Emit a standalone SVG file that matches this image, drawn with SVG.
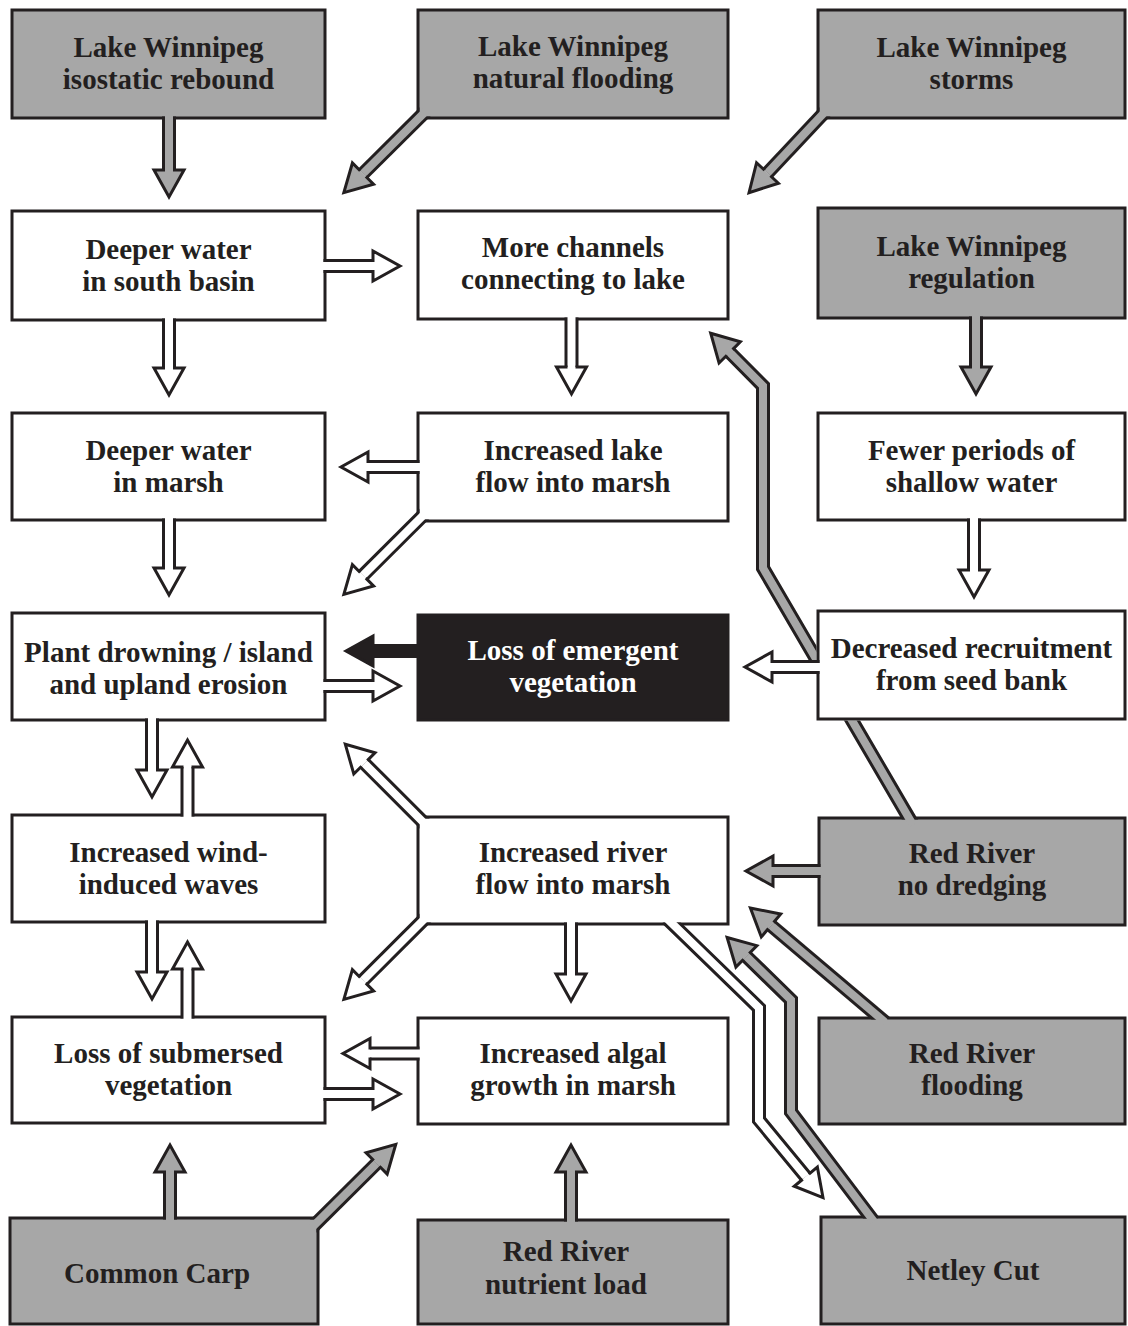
<svg xmlns="http://www.w3.org/2000/svg" width="1128" height="1326" viewBox="0 0 1128 1326">
<style>
.box{stroke:#231f20;stroke-width:3}
.g{fill:#a7a7a7}
.w{fill:#fff}
.k{fill:#231f20}
text{font-family:"Liberation Serif","Times New Roman",serif;font-weight:bold;font-size:29px;fill:#231f20;text-anchor:middle}
text.inv{fill:#fff}
.out{fill:none;stroke:#231f20;stroke-width:14;stroke-linejoin:miter}
.in{fill:none;stroke-width:8;stroke-linejoin:miter}
.in.wa{stroke:#fff;marker-end:url(#hw)}
.in.ga{stroke:#a7a7a7;marker-end:url(#hg)}
.in.ka{stroke:#231f20;marker-end:url(#hk)}
</style>
<defs>
<marker id="hw" markerUnits="userSpaceOnUse" orient="auto" overflow="visible" markerWidth="1" markerHeight="1" refX="0" refY="0">
<path d="M0,4 L0,15 L27,0 L0,-15 L0,-4" fill="#fff" stroke="#231f20" stroke-width="3"/>
</marker>
<marker id="hg" markerUnits="userSpaceOnUse" orient="auto" overflow="visible" markerWidth="1" markerHeight="1" refX="0" refY="0">
<path d="M0,4 L0,15 L27,0 L0,-15 L0,-4" fill="#a7a7a7" stroke="#231f20" stroke-width="3"/>
</marker>
<marker id="hk" markerUnits="userSpaceOnUse" orient="auto" overflow="visible" markerWidth="1" markerHeight="1" refX="0" refY="0">
<path d="M0,4 L0,15 L27,0 L0,-15 L0,-4" fill="#231f20" stroke="#231f20" stroke-width="3"/>
</marker>
<clipPath id="outside">
<path clip-rule="evenodd" d="M0,0H1128V1326H0Z
M13.5,11.5h310v105h-310Z M419.5,11.5h307v105h-307Z M819.5,11.5h304v105h-304Z
M13.5,212.5h310v106h-310Z M419.5,212.5h307v105h-307Z M819.5,209.5h304v107h-304Z
M13.5,414.5h310v104h-310Z M419.5,414.5h307v105h-307Z M819.5,414.5h304v104h-304Z
M13.5,614.5h310v104h-310Z M419.5,616.5h307v102h-307Z M819.5,612.5h304v105h-304Z
M13.5,816.5h310v104h-310Z M419.5,818.5h307v104h-307Z M820.5,819.5h303v104h-303Z
M13.5,1018.5h310v103h-310Z M419.5,1019.5h307v103h-307Z M820.5,1019.5h303v103h-303Z
M11.5,1219.5h305v103h-305Z M419.5,1221.5h307v101h-307Z M822.5,1218.5h301v104h-301Z"/>
</clipPath>
<clipPath id="notL">
<path clip-rule="evenodd" d="M0,0H1128V1326H0Z M816.5,609.5h310v111h-310Z"/>
</clipPath>
</defs>
<rect width="1128" height="1326" fill="#fff"/>

<g id="nodes">
<g id="n-lw-rebound"><rect class="box g" x="12" y="10" width="313" height="108"/><text x="168.5" y="57">Lake Winnipeg</text><text x="168.5" y="89">isostatic rebound</text></g>
<g id="n-lw-flooding"><rect class="box g" x="418" y="10" width="310" height="108"/><text x="573" y="56">Lake Winnipeg</text><text x="573" y="88">natural flooding</text></g>
<g id="n-lw-storms"><rect class="box g" x="818" y="10" width="307" height="108"/><text x="971.5" y="57">Lake Winnipeg</text><text x="971.5" y="89">storms</text></g>
<g id="n-deeper-south"><rect class="box w" x="12" y="211" width="313" height="109"/><text x="168.5" y="258.5">Deeper water</text><text x="168.5" y="290.5">in south basin</text></g>
<g id="n-more-channels"><rect class="box w" x="418" y="211" width="310" height="108"/><text x="573" y="257">More channels</text><text x="573" y="289">connecting to lake</text></g>
<g id="n-lw-regulation"><rect class="box g" x="818" y="208" width="307" height="110"/><text x="971.5" y="256">Lake Winnipeg</text><text x="971.5" y="288">regulation</text></g>
<g id="n-deeper-marsh"><rect class="box w" x="12" y="413" width="313" height="107"/><text x="168.5" y="460">Deeper water</text><text x="168.5" y="492">in marsh</text></g>
<g id="n-lake-flow"><rect class="box w" x="418" y="413" width="310" height="108"/><text x="573" y="460">Increased lake</text><text x="573" y="492">flow into marsh</text></g>
<g id="n-fewer-periods"><rect class="box w" x="818" y="413" width="307" height="107"/><text x="971.5" y="460">Fewer periods of</text><text x="971.5" y="492">shallow water</text></g>
<g id="n-plant-drowning"><rect class="box w" x="12" y="613" width="313" height="107"/><text x="168.5" y="662">Plant drowning / island</text><text x="168.5" y="694">and upland erosion</text></g>
<g id="n-loss-emergent"><rect class="box k" x="418" y="615" width="310" height="105"/><text class="inv" x="573" y="660">Loss of emergent</text><text class="inv" x="573" y="692">vegetation</text></g>
<g id="n-decreased-recruitment"><rect class="box w" x="818" y="611" width="307" height="108"/><text x="971.5" y="658">Decreased recruitment</text><text x="971.5" y="690">from seed bank</text></g>
<g id="n-wind-waves"><rect class="box w" x="12" y="815" width="313" height="107"/><text x="168.5" y="862">Increased wind-</text><text x="168.5" y="894">induced waves</text></g>
<g id="n-river-flow"><rect class="box w" x="418" y="817" width="310" height="107"/><text x="573" y="862">Increased river</text><text x="573" y="894">flow into marsh</text></g>
<g id="n-rr-no-dredging"><rect class="box g" x="819" y="818" width="306" height="107"/><text x="972" y="863">Red River</text><text x="972" y="895">no dredging</text></g>
<g id="n-loss-submersed"><rect class="box w" x="12" y="1017" width="313" height="106"/><text x="168.5" y="1063">Loss of submersed</text><text x="168.5" y="1095">vegetation</text></g>
<g id="n-algal-growth"><rect class="box w" x="418" y="1018" width="310" height="106"/><text x="573" y="1063">Increased algal</text><text x="573" y="1095">growth in marsh</text></g>
<g id="n-rr-flooding"><rect class="box g" x="819" y="1018" width="306" height="106"/><text x="972" y="1063">Red River</text><text x="972" y="1095">flooding</text></g>
<g id="n-common-carp"><rect class="box g" x="10" y="1218" width="308" height="106"/><text x="157" y="1283">Common Carp</text></g>
<g id="n-rr-nutrient"><rect class="box g" x="418" y="1220" width="310" height="104"/><text x="566" y="1261">Red River</text><text x="566" y="1294">nutrient load</text></g>
<g id="n-netley-cut"><rect class="box g" x="821" y="1217" width="304" height="107"/><text x="973" y="1280">Netley Cut</text></g>
</g>

<g id="connectors">
<g id="c-nodredge-channels" clip-path="url(#notL)">
<path class="out" clip-path="url(#outside)" d="M913,824.9 L763,568 L763,386 L729.7,352.4"/>
<path class="in ga" d="M913,824.9 L763,568 L763,386 L729.7,352.4"/>
</g>
<g id="c-rebound-deeper"><path class="out" clip-path="url(#outside)" d="M169,111 L169,170"/><path class="in ga" d="M169,111 L169,170"/></g>
<g id="c-lwflood"><path class="out" clip-path="url(#outside)" d="M426.2,110.8 L363,173.6"/><path class="in ga" d="M426.2,110.8 L363,173.6"/></g>
<g id="c-storms"><path class="out" clip-path="url(#outside)" d="M825.5,111.2 L767.5,173"/><path class="in ga" d="M825.5,111.2 L767.5,173"/></g>
<g id="c-south-channels"><path class="out" clip-path="url(#outside)" d="M318,266 L373,266"/><path class="in wa" d="M318,266 L373,266"/></g>
<g id="c-south-marsh"><path class="out" clip-path="url(#outside)" d="M169,313 L169,368"/><path class="in wa" d="M169,313 L169,368"/></g>
<g id="c-channels-lakeflow"><path class="out" clip-path="url(#outside)" d="M571.5,312 L571.5,367"/><path class="in wa" d="M571.5,312 L571.5,367"/></g>
<g id="c-regulation-fewer"><path class="out" clip-path="url(#outside)" d="M976,311 L976,367"/><path class="in ga" d="M976,311 L976,367"/></g>
<g id="c-lakeflow-deeper"><path class="out" clip-path="url(#outside)" d="M425,467 L368,467"/><path class="in wa" d="M425,467 L368,467"/></g>
<g id="c-lakeflow-plant"><path class="out" clip-path="url(#outside)" d="M426.7,511.8 L363,575.3"/><path class="in wa" d="M426.7,511.8 L363,575.3"/></g>
<g id="c-deeper-plant"><path class="out" clip-path="url(#outside)" d="M169,513 L169,568"/><path class="in wa" d="M169,513 L169,568"/></g>
<g id="c-fewer-recruit"><path class="out" clip-path="url(#outside)" d="M974,513 L974,570"/><path class="in wa" d="M974,513 L974,570"/></g>
<g id="c-recruit-emergent"><path class="out" clip-path="url(#outside)" d="M825,667 L772,667"/><path class="in wa" d="M825,667 L772,667"/></g>
<g id="c-emergent-plant"><path class="out" clip-path="url(#outside)" d="M425,651 L373,651"/><path class="in ka" d="M425,651 L373,651"/></g>
<g id="c-plant-emergent"><path class="out" clip-path="url(#outside)" d="M318,686 L373,686"/><path class="in wa" d="M318,686 L373,686"/></g>
<g id="c-plant-waves"><path class="out" clip-path="url(#outside)" d="M152,713 L152,770"/><path class="in wa" d="M152,713 L152,770"/></g>
<g id="c-waves-plant"><path class="out" clip-path="url(#outside)" d="M187.5,822 L187.5,767"/><path class="in wa" d="M187.5,822 L187.5,767"/></g>
<g id="c-waves-submersed"><path class="out" clip-path="url(#outside)" d="M152,915 L152,972"/><path class="in wa" d="M152,915 L152,972"/></g>
<g id="c-submersed-waves"><path class="out" clip-path="url(#outside)" d="M187.5,1024 L187.5,969"/><path class="in wa" d="M187.5,1024 L187.5,969"/></g>
<g id="c-river-plant"><path class="out" clip-path="url(#outside)" d="M426.5,825.5 L364.4,763.4"/><path class="in wa" d="M426.5,825.5 L364.4,763.4"/></g>
<g id="c-river-submersed"><path class="out" clip-path="url(#outside)" d="M427.4,916 L363,980.3"/><path class="in wa" d="M427.4,916 L363,980.3"/></g>
<g id="c-river-algal"><path class="out" clip-path="url(#outside)" d="M571,917 L571,974"/><path class="in wa" d="M571,917 L571,974"/></g>
<g id="c-nodredge-river"><path class="out" clip-path="url(#outside)" d="M826,871 L773,871"/><path class="in ga" d="M826,871 L773,871"/></g>
<g id="c-rrflood-river"><path class="out" clip-path="url(#outside)" d="M885.1,1022.2 L771,925.5"/><path class="in ga" d="M885.1,1022.2 L771,925.5"/></g>
<g id="c-netley-river"><path class="out" clip-path="url(#outside)" d="M873.8,1221.4 L791,1112 L791,1000 L746.4,956.4"/><path class="in ga" d="M873.8,1221.4 L791,1112 L791,1000 L746.4,956.4"/></g>
<g id="c-river-netley"><path class="out" clip-path="url(#outside)" d="M666.8,918.4 L759,1008 L759,1120 L805.8,1176.7"/><path class="in wa" d="M666.8,918.4 L759,1008 L759,1120 L805.8,1176.7"/></g>
<g id="c-carp-submersed"><path class="out" clip-path="url(#outside)" d="M170,1225 L170,1172"/><path class="in ga" d="M170,1225 L170,1172"/></g>
<g id="c-carp-algal"><path class="out" clip-path="url(#outside)" d="M311.8,1227.7 L376.6,1163.4"/><path class="in ga" d="M311.8,1227.7 L376.6,1163.4"/></g>
<g id="c-nutrient-algal"><path class="out" clip-path="url(#outside)" d="M571,1227 L571,1172"/><path class="in ga" d="M571,1227 L571,1172"/></g>
<g id="c-algal-submersed"><path class="out" clip-path="url(#outside)" d="M425,1053.5 L370,1053.5"/><path class="in wa" d="M425,1053.5 L370,1053.5"/></g>
<g id="c-submersed-algal"><path class="out" clip-path="url(#outside)" d="M318,1094 L373,1094"/><path class="in wa" d="M318,1094 L373,1094"/></g>
</g>
</svg>
